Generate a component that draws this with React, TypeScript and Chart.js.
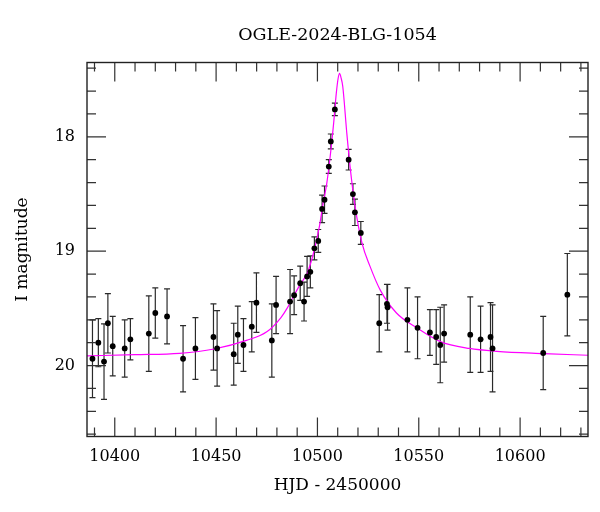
import React, { useEffect, useRef } from "react";
import { Chart, registerables } from "chart.js";

Chart.register(...registerables);

const TITLE = "OGLE-2024-BLG-1054";
const X_TITLE = "HJD - 2450000";
const Y_TITLE = "I magnitude";

// Observations (HJD - 2450000, I mag, error)
const obsDays = [
  10389.0, 10391.9, 10394.7, 10396.6, 10399.0, 10404.9, 10407.7, 10416.8, 10420.0, 10425.8,
  10433.7, 10439.8, 10448.7, 10450.5, 10458.7, 10460.7, 10463.5, 10467.6, 10469.9, 10477.5,
  10479.6, 10486.5, 10488.5, 10491.5, 10493.4, 10494.9, 10496.5, 10498.5, 10500.4, 10502.3,
  10503.5, 10505.6, 10506.6, 10508.6, 10515.4, 10517.5, 10518.5, 10521.4, 10530.5, 10534.3,
  10534.6, 10544.4, 10549.4, 10555.5, 10558.6, 10560.6, 10562.5, 10575.4, 10580.5, 10585.4,
  10586.4, 10611.4, 10623.3,
];
const obsMags = [
  19.94, 19.80, 19.965, 19.63, 19.83, 19.85, 19.77, 19.72, 19.54, 19.57,
  19.94, 19.85, 19.75, 19.85, 19.90, 19.73, 19.82, 19.66, 19.45, 19.78,
  19.47, 19.44, 19.385, 19.28, 19.44, 19.22, 19.18, 18.975, 18.91, 18.63,
  18.55, 18.26, 18.04, 17.76, 18.20, 18.50, 18.66, 18.84, 19.63, 19.46,
  19.49, 19.60, 19.67, 19.71, 19.75, 19.82, 19.72, 19.73, 19.77, 19.75,
  19.85, 19.89, 19.38,
];
const obsErrs = [
  0.34, 0.21, 0.33, 0.26, 0.26, 0.25, 0.18, 0.33, 0.22, 0.24,
  0.29, 0.27, 0.29, 0.33, 0.27, 0.25, 0.23, 0.22, 0.26, 0.32,
  0.25, 0.28, 0.17, 0.15, 0.17, 0.175, 0.14, 0.10, 0.10, 0.12,
  0.12, 0.06, 0.065, 0.055, 0.09, 0.09, 0.115, 0.10, 0.25, 0.17,
  0.20, 0.28, 0.27, 0.20, 0.24, 0.33, 0.25, 0.33, 0.29, 0.30,
  0.38, 0.32, 0.36,
];

// Model light curve
const modelDays = [
  10386, 10410, 10432, 10449, 10465, 10475, 10482, 10485, 10488, 10491.5,
  10495, 10498, 10501, 10503, 10504.5, 10506.3, 10508, 10509.3, 10510.2, 10510.9,
  10511.6, 10512.5, 10514.5, 10516.1, 10518.6, 10522, 10526, 10531, 10539, 10549,
  10560.6, 10575, 10588.5, 10611.6, 10634,
];
const modelMags = [
  19.915, 19.905, 19.893, 19.855, 19.78, 19.705, 19.58, 19.50, 19.40, 19.29,
  19.19, 19.02, 18.78, 18.56, 18.42, 18.17, 17.88, 17.62, 17.49, 17.445,
  17.48, 17.56, 17.97, 18.26, 18.61, 18.93, 19.135, 19.34, 19.54, 19.67,
  19.79, 19.85, 19.875, 19.895, 19.91,
];

const xMajorTicks = [10400, 10450, 10500, 10550, 10600];
const xMinorTicks = [
  10390, 10410, 10420, 10430, 10440, 10460, 10470, 10480, 10490, 10510, 10520, 10530,
  10540, 10560, 10570, 10580, 10590, 10610, 10620, 10630,
];
const yMajorTicks = [18, 19, 20];
const yMinorTicks = [
  17.4, 17.6, 17.8, 18.2, 18.4, 18.6, 18.8, 19.2, 19.4, 19.6, 19.8, 20.2, 20.4, 20.6,
];

const FONT = "'DejaVu Serif', 'Liberation Serif', serif";

const errorBarPlugin = {
  id: "errorBars",
  beforeDatasetsDraw(chart: any) {
    const { ctx, chartArea: a, scales } = chart;
    const x = scales.x;
    const y = scales.y;
    ctx.save();
    ctx.beginPath();
    ctx.rect(a.left, a.top, a.right - a.left, a.bottom - a.top);
    ctx.clip();
    ctx.strokeStyle = "#2a2a2a";
    ctx.lineWidth = 1.2;
    ctx.beginPath();
    obsDays.forEach((d, i) => {
      const px = x.getPixelForValue(d);
      const top = y.getPixelForValue(obsMags[i] - obsErrs[i]);
      const bot = y.getPixelForValue(obsMags[i] + obsErrs[i]);
      ctx.moveTo(px, top);
      ctx.lineTo(px, bot);
      ctx.moveTo(px - 3, top);
      ctx.lineTo(px + 3, top);
      ctx.moveTo(px - 3, bot);
      ctx.lineTo(px + 3, bot);
    });
    ctx.stroke();
    ctx.restore();
  },
};

const framePlugin = {
  id: "frameTicks",
  afterDatasetsDraw(chart: any) {
    const { ctx, chartArea: a, scales } = chart;
    const x = scales.x;
    const y = scales.y;
    ctx.save();
    ctx.strokeStyle = "#333";
    ctx.lineWidth = 1.2;
    ctx.beginPath();
    const xt = (v: number, len: number) => {
      const p = x.getPixelForValue(v);
      ctx.moveTo(p, a.bottom);
      ctx.lineTo(p, a.bottom - len);
      ctx.moveTo(p, a.top);
      ctx.lineTo(p, a.top + len);
    };
    const yt = (v: number, len: number) => {
      const p = y.getPixelForValue(v);
      ctx.moveTo(a.left, p);
      ctx.lineTo(a.left + len, p);
      ctx.moveTo(a.right, p);
      ctx.lineTo(a.right - len, p);
    };
    xMajorTicks.forEach((v) => xt(v, 19));
    xMinorTicks.forEach((v) => xt(v, 9));
    yMajorTicks.forEach((v) => yt(v, 19));
    yMinorTicks.forEach((v) => yt(v, 9));
    ctx.stroke();
    ctx.lineWidth = 1.4;
    ctx.strokeStyle = "#222";
    ctx.strokeRect(a.left, a.top, a.right - a.left, a.bottom - a.top);
    ctx.restore();
  },
};

export default function App() {
  const ref = useRef<HTMLCanvasElement | null>(null);
  useEffect(() => {
    if (!ref.current) return;
    const chart = new Chart(ref.current, {
      type: "scatter",
      data: {
        datasets: [
          {
            type: "scatter",
            label: "obs",
            data: obsDays.map((d, i) => ({ x: d, y: obsMags[i] })),
            pointRadius: 2.9,
            pointBackgroundColor: "#000",
            pointBorderWidth: 0,
            pointBorderColor: "#000",
          } as any,
          {
            type: "line",
            label: "model",
            data: modelDays.map((d, i) => ({ x: d, y: modelMags[i] })),
            borderColor: "#ff00ff",
            borderWidth: 1.2,
            pointRadius: 0,
            cubicInterpolationMode: "monotone",
            fill: false,
          } as any,
        ],
      },
      options: {
        responsive: false,
        animation: false,
        layout: { padding: { left: 0, right: 12, top: 0, bottom: 0 } },
        plugins: {
          legend: { display: false },
          tooltip: { enabled: false },
          title: {
            display: true,
            text: TITLE,
            fullSize: false,
            color: "#000",
            font: { family: FONT, size: 17.5, weight: "normal" },
            padding: { top: 24.5, bottom: 17 },
          },
        },
        scales: {
          x: {
            type: "linear",
            min: 10386.3,
            max: 10633.5,
            grid: { display: false, drawTicks: false },
            border: { display: false },
            afterBuildTicks: (s: any) => {
              s.ticks = xMajorTicks.map((v) => ({ value: v }));
            },
            afterFit: (s: any) => {
              s.height = 75.5;
            },
            ticks: {
              color: "#000",
              font: { family: FONT, size: 16 },
              padding: 11,
              maxRotation: 0,
              callback: (v: any) => String(v),
            },
            title: {
              display: true,
              text: X_TITLE,
              color: "#000",
              font: { family: FONT, size: 17 },
              padding: { top: 0, bottom: 16 },
            },
          },
          y: {
            type: "linear",
            reverse: true,
            min: 17.35,
            max: 20.62,
            grid: { display: false, drawTicks: false },
            border: { display: false },
            afterBuildTicks: (s: any) => {
              s.ticks = yMajorTicks.map((v) => ({ value: v }));
            },
            afterFit: (s: any) => {
              s.width = 87;
            },
            ticks: {
              color: "#000",
              font: { family: FONT, size: 16 },
              padding: 12,
              callback: (v: any) => String(v),
            },
            title: {
              display: true,
              text: Y_TITLE,
              color: "#000",
              font: { family: FONT, size: 17 },
              padding: { top: 12, bottom: 0 },
            },
          },
        },
      },
      plugins: [errorBarPlugin, framePlugin],
    });
    return () => chart.destroy();
  }, []);
  return (
    <div style={{ position: "fixed", left: 0, top: 0, width: 600, height: 512, background: "#fff" }}>
      <canvas ref={ref} width={600} height={512} style={{ display: "block" }} />
    </div>
  );
}
